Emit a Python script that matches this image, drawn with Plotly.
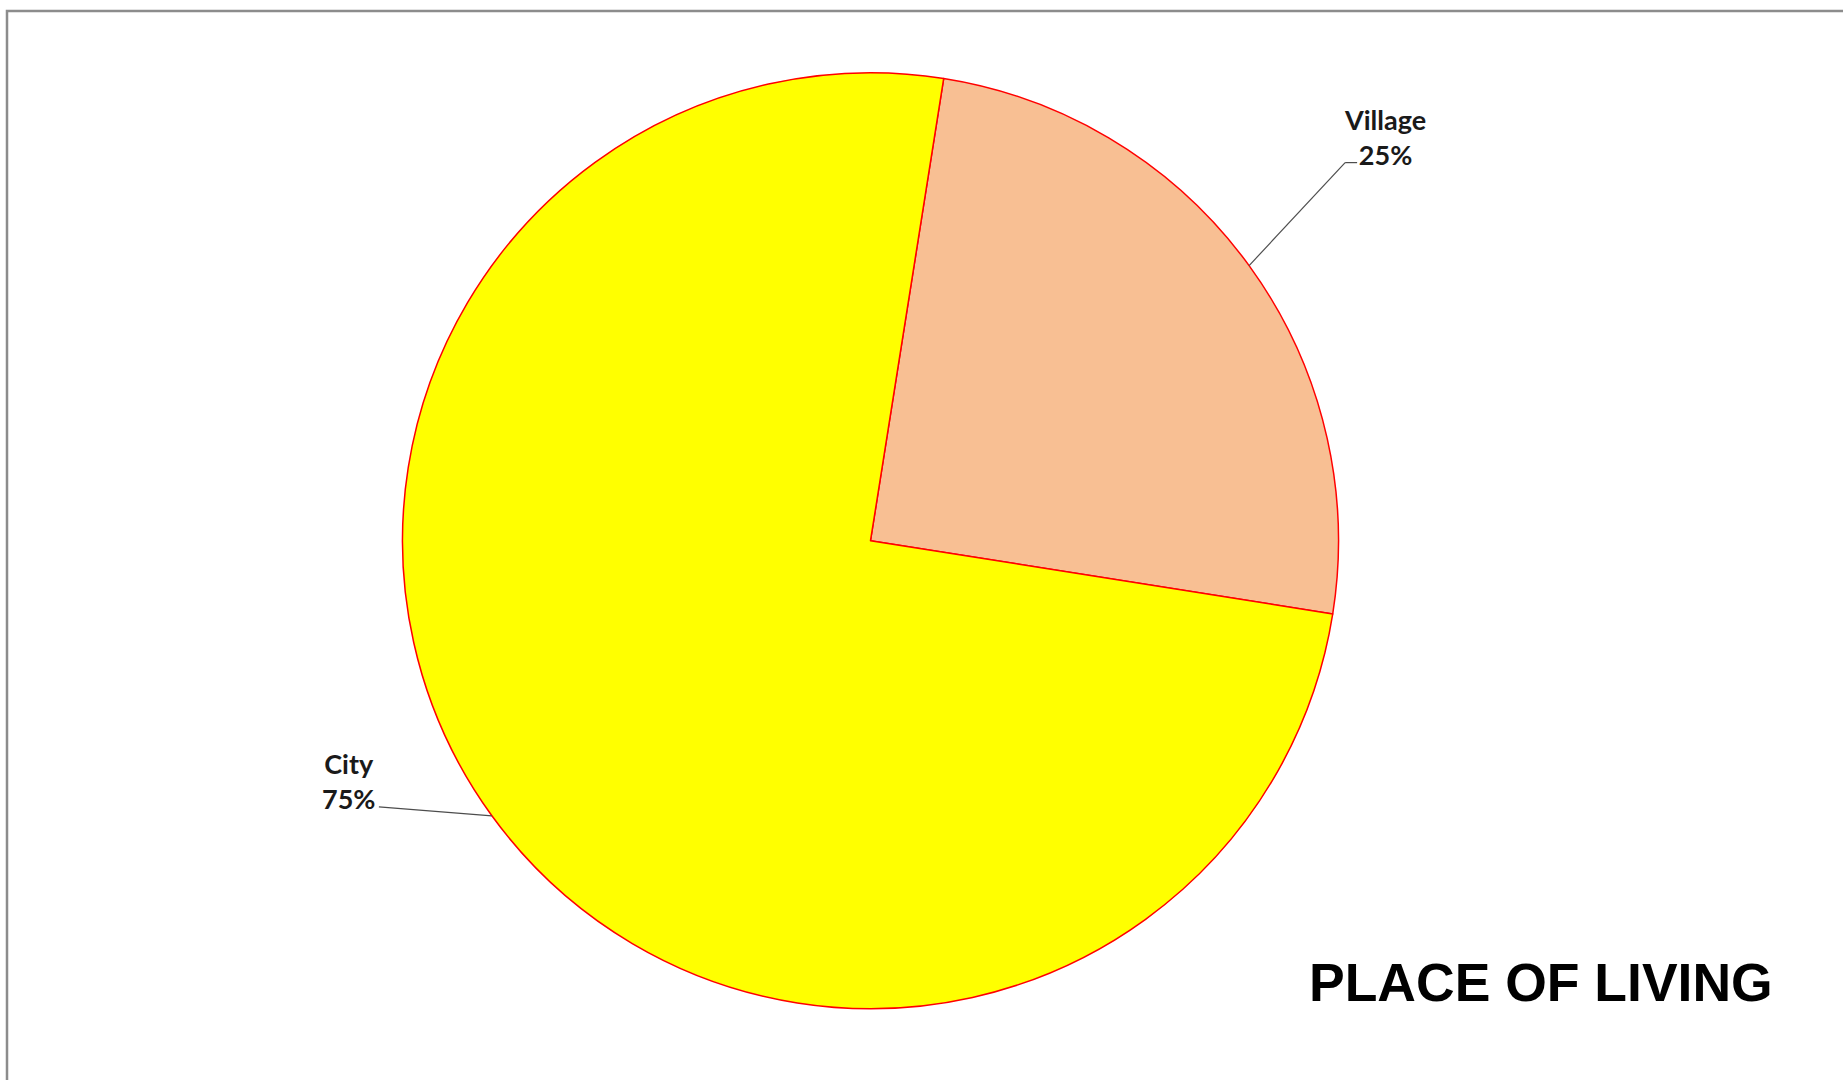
import math
import plotly.graph_objects as go

# ---- data ----
labels = ["Village", "City"]
values = [25, 75]
colors = ["#F8BF93", "#FFFF00"]
title_text = "PLACE OF LIVING"

# ---- layout geometry (pixels of the 1843x1080 page) ----
W, H = 1843, 1080
CX, CY, R = 870.5, 540.7, 468.0
ROT = 9  # degrees clockwise from 12 o'clock where first slice starts


def px(x):
    return x / W


def py(y):
    return 1 - y / H


fig = go.Figure(
    go.Pie(
        labels=labels,
        values=values,
        marker=dict(colors=colors, line=dict(color="#FF0000", width=1.5)),
        sort=False,
        direction="clockwise",
        rotation=ROT,
        textinfo="none",
        hoverinfo="label+percent",
        showlegend=False,
        domain=dict(x=[px(CX - R), px(CX + R)], y=[py(CY + R), py(CY - R)]),
    )
)

# leader lines and labels computed from slice mid-angles
total = sum(values)
cum = 0.0
label_cfg = {
    "Village": dict(elbow=(96, -103), tail=(12, 0), text_dx=136, text_dy=-129),
    "City": dict(elbow=(-113, -9), tail=(0, 0), text_dx=-143, text_dy=-35),
}
shapes = []
annotations = []
for lab, val in zip(labels, values):
    frac = val / total
    mid = ROT + (cum + frac / 2) * 360
    cum += frac
    a = math.radians(mid)
    ex, ey = CX + R * math.sin(a), CY - R * math.cos(a)
    cfg = label_cfg[lab]
    bx, by = ex + cfg["elbow"][0], ey + cfg["elbow"][1]
    tx, ty = bx + cfg["tail"][0], by + cfg["tail"][1]
    shapes.append(dict(type="line", xref="paper", yref="paper",
                       x0=px(ex), y0=py(ey), x1=px(bx), y1=py(by),
                       line=dict(color="#4d4d4d", width=1.2)))
    if cfg["tail"] != (0, 0):
        shapes.append(dict(type="line", xref="paper", yref="paper",
                           x0=px(bx), y0=py(by), x1=px(tx), y1=py(ty),
                           line=dict(color="#4d4d4d", width=1.2)))
    pct = f"{round(frac * 100)}%"
    annotations.append(dict(
        xref="paper", yref="paper",
        x=px(ex + cfg["text_dx"]), y=py(ey + cfg["text_dy"]),
        text=f"<b>{lab}</b><br><b>{pct}</b>",
        showarrow=False, xanchor="center", yanchor="middle", align="center",
        font=dict(family="Lato, Open Sans, sans-serif", size=27, color="#1a1a1a"),
    ))

annotations.append(dict(
    xref="paper", yref="paper", x=px(1307), y=py(982),
    text=f"<b>{title_text}</b>", showarrow=False, xanchor="left", yanchor="middle",
    font=dict(family="Liberation Sans, Arial, sans-serif", size=53.5, color="#000000"),
))

# outer frame (only top and left edges visible in the view)
shapes.append(dict(type="rect", xref="paper", yref="paper",
                   x0=px(7), y0=py(11), x1=px(W + 40), y1=py(H + 40),
                   line=dict(color="#8c8c8c", width=2.5), fillcolor="rgba(0,0,0,0)"))

fig.update_layout(
    width=W, height=H, autosize=False,
    margin=dict(l=0, r=0, t=0, b=0),
    paper_bgcolor="white",
    plot_bgcolor="white",
    shapes=shapes,
    annotations=annotations,
)

fig.write_html(
    "out.html",
    config={"displayModeBar": False},
    post_script="document.body.style.margin='0px';document.body.style.overflow='hidden';",
)
